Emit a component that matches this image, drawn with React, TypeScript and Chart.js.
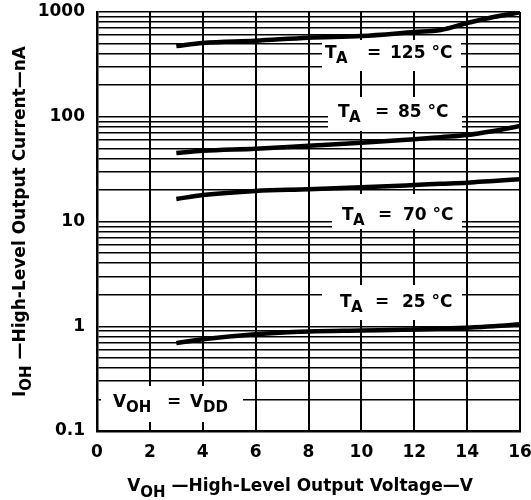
import React, { useEffect, useRef } from 'react';
import { Chart, registerables } from 'chart.js';

Chart.register(...registerables);

// ---- data ----
const voltages = [3, 4, 6, 8, 10, 12, 13, 14, 15, 16];
const current125 = [473, 506, 532, 569, 590, 644, 673, 785, 896, 989];
const current85 = [45.1, 47.4, 49.6, 52.9, 56.5, 60.9, 63.8, 66.9, 73.1, 81.6];
const current70 = [16.4, 17.9, 19.6, 20.3, 21.2, 22.3, 22.9, 23.5, 24.4, 25.3];
const current25 = [0.69, 0.75, 0.84, 0.89, 0.91, 0.93, 0.95, 0.97, 1.0, 1.045];
const seriesTemps = ['125', '85', '70', '25'];

const xTickValues = [0, 2, 4, 6, 8, 10, 12, 14, 16];
const yMajorValues = [0.1, 1, 10, 100, 1000];
const yMajorLabels = ['0.1', '1', '10', '100', '1000'];

const FONT = '"DejaVu Sans", "Liberation Sans", Arial, sans-serif';

// annotation layout (pixels): white box and text anchor for each temperature label
const labelLayout = [
  { box: [322, 40, 461, 71], x: 325, base: 58, eq: 42, num: 65 },
  { box: [328, 97, 462, 131], x: 338, base: 117, eq: 37, num: 60 },
  { box: [332, 194, 462, 229], x: 342, base: 220, eq: 36, num: 61 },
  { box: [322, 285, 462, 320], x: 340, base: 307, eq: 35, num: 62 },
];

function buildYTicks(): number[] {
  const out: number[] = [];
  for (let e = -1; e <= 2; e++) {
    for (let m = 1; m <= 9; m++) out.push(Number((m * Math.pow(10, e)).toPrecision(3)));
  }
  out.push(1000);
  return out;
}

type Part = { t: string; size: number; dy: number };
function partsWidth(ctx: CanvasRenderingContext2D, parts: Part[]) {
  return parts.map((p) => {
    ctx.font = `bold ${p.size}px ${FONT}`;
    return ctx.measureText(p.t).width;
  });
}
function drawParts(ctx: CanvasRenderingContext2D, parts: Part[], x: number, y: number, center: boolean) {
  const w = partsWidth(ctx, parts);
  const total = w.reduce((a, b) => a + b, 0);
  let cx = center ? x - total / 2 : x;
  parts.forEach((p, i) => {
    ctx.font = `bold ${p.size}px ${FONT}`;
    ctx.fillText(p.t, cx, y + p.dy);
    cx += w[i];
  });
}

const annotationPlugin = {
  id: 'annotations',
  beforeDatasetsDraw(chart: any) {
    const ctx = chart.ctx as CanvasRenderingContext2D;
    ctx.save();
    ctx.fillStyle = '#fff';
    labelLayout.forEach((l) => {
      const [x1, y1, x2, y2] = l.box;
      ctx.fillRect(x1, y1, x2 - x1, y2 - y1);
    });
    ctx.fillRect(101, 386, 142, 36);
    ctx.restore();
  },
  afterDatasetsDraw(chart: any) {
    const ctx = chart.ctx as CanvasRenderingContext2D;
    ctx.save();
    ctx.fillStyle = '#000';
    ctx.textBaseline = 'alphabetic';
    ctx.textAlign = 'left';
    labelLayout.forEach((l, i) => {
      ctx.font = `bold 17px ${FONT}`;
      ctx.fillText('T', l.x, l.base);
      ctx.font = `bold 15px ${FONT}`;
      ctx.fillText('A', l.x + 11, l.base + 5);
      ctx.font = `bold 17px ${FONT}`;
      ctx.fillText('=', l.x + l.eq, l.base);
      ctx.fillText(seriesTemps[i] + ' °C', l.x + l.num, l.base);
    });
    // V_OH = V_DD
    ctx.font = `bold 17px ${FONT}`;
    ctx.fillText('V', 113, 407);
    ctx.font = `bold 15px ${FONT}`;
    ctx.fillText('OH', 126, 412);
    ctx.font = `bold 17px ${FONT}`;
    ctx.fillText('=', 167, 407);
    ctx.fillText('V', 190, 407);
    ctx.font = `bold 15px ${FONT}`;
    ctx.fillText('DD', 203, 412);
    ctx.restore();
  },
  afterDraw(chart: any) {
    const ctx = chart.ctx as CanvasRenderingContext2D;
    const area = chart.chartArea;
    ctx.save();
    ctx.fillStyle = '#000';
    ctx.textBaseline = 'alphabetic';
    ctx.textAlign = 'left';
    const xTitle: Part[] = [
      { t: 'V', size: 17, dy: 0 },
      { t: 'OH', size: 15, dy: 6 },
      { t: ' —High-Level Output Voltage—V', size: 17, dy: 0 },
    ];
    drawParts(ctx, xTitle, 300, 491, true);
    const yTitle: Part[] = [
      { t: 'I', size: 17, dy: 0 },
      { t: 'OH', size: 15, dy: 6 },
      { t: ' —High-Level Output Current—nA', size: 17, dy: 0 },
    ];
    ctx.translate(25, (area.top + area.bottom) / 2);
    ctx.rotate(-Math.PI / 2);
    drawParts(ctx, yTitle, 0, 0, true);
    ctx.restore();
  },
};

export default function App() {
  const ref = useRef<HTMLCanvasElement | null>(null);
  useEffect(() => {
    if (!ref.current) return;
    const mk = (vals: number[]) => ({
      data: voltages.map((v, i) => ({ x: v, y: vals[i] })),
      borderColor: '#000',
      borderWidth: 4.5,
      pointRadius: 0,
      fill: false,
      cubicInterpolationMode: 'monotone' as const,
    });
    const yTicks = buildYTicks();
    const chart = new Chart(ref.current, {
      type: 'line',
      data: {
        datasets: [mk(current125), mk(current85), mk(current70), mk(current25)],
      },
      options: {
        animation: false,
        responsive: false,
        maintainAspectRatio: false,
        layout: { padding: { top: 12, right: 11, left: 0, bottom: 0 } },
        plugins: { legend: { display: false }, tooltip: { enabled: false } },
        scales: {
          x: {
            type: 'linear',
            min: 0,
            max: 16,
            afterBuildTicks: (s: any) => {
              s.ticks = xTickValues.map((v) => ({ value: v }));
            },
            afterFit: (s: any) => {
              s.height = 69;
              s.paddingLeft = 0;
              s.paddingRight = 0;
            },
            ticks: {
              color: '#000',
              font: { family: FONT, size: 17, weight: 'bold' },
              padding: 11,
              maxRotation: 0,
              autoSkip: false,
            },
            grid: { color: '#000', lineWidth: 2, drawTicks: false },
            border: { color: '#000', width: 2.5 },
          },
          y: {
            type: 'logarithmic',
            min: 0.1,
            max: 1000,
            afterBuildTicks: (s: any) => {
              s.ticks = yTicks.map((v) => ({ value: v }));
            },
            afterFit: (s: any) => {
              s.width = 97;
              s.paddingTop = 0;
              s.paddingBottom = 0;
            },
            ticks: {
              color: '#000',
              font: { family: FONT, size: 17, weight: 'bold' },
              padding: 12,
              autoSkip: false,
              callback: (value: any) => {
                const v = Number(value);
                const idx = yMajorValues.findIndex((m) => Math.abs(m - v) / m < 1e-6);
                return idx >= 0 ? yMajorLabels[idx] : '';
              },
            },
            grid: { color: '#000', lineWidth: 1.5, drawTicks: false },
            border: { color: '#000', width: 2.5 },
          },
        },
      },
      plugins: [annotationPlugin],
    });
    return () => chart.destroy();
  }, []);
  return (
    <div style={{ position: 'absolute', left: 0, top: 0, width: 531, height: 500, background: '#fff' }}>
      <canvas ref={ref} width={531} height={500} />
    </div>
  );
}
